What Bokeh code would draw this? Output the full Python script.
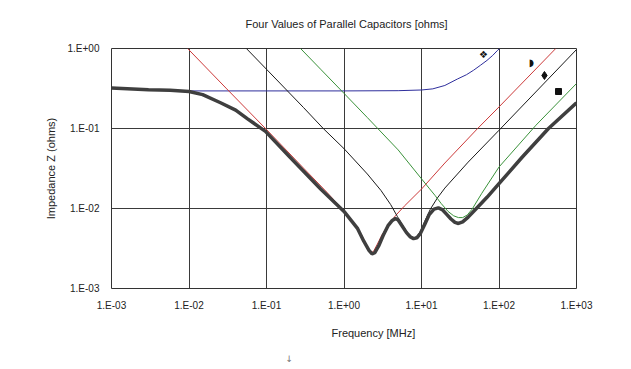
from bokeh.plotting import figure
from bokeh.models import FixedTicker, Title
from bokeh.core.properties import value
from bokeh.embed import file_html
from bokeh.resources import INLINE

# ---------------- data ----------------
x_ticks = [1e-3, 1e-2, 1e-1, 1e0, 1e1, 1e2, 1e3]
x_tick_labels = ["1.E-03", "1.E-02", "1.E-01", "1.E+00", "1.E+01", "1.E+02", "1.E+03"]
y_ticks = [1e-3, 1e-2, 1e-1, 1e0]
y_tick_labels = ["1.E-03", "1.E-02", "1.E-01", "1.E+00"]

blue_f = [0.01, 0.1, 1.0, 5.0, 10, 14, 20, 29, 38, 47, 58, 70, 83, 95, 102]
blue_z = [0.295, 0.295, 0.295, 0.297, 0.303, 0.313, 0.345, 0.415, 0.47, 0.535, 0.62, 0.71, 0.82, 0.94, 1.0]

red_f = [0.0096, 0.03, 0.1, 0.3, 0.6, 1.0, 1.4, 1.7, 2.0, 2.2, 2.4, 2.7, 3.1, 3.6, 4.6, 6.0, 10, 20, 53, 100, 540]
red_z = [1.0, 0.32, 0.097, 0.032, 0.016, 0.0093, 0.0062, 0.0046, 0.0033, 0.0028, 0.0029, 0.0036, 0.0047, 0.0059, 0.0081, 0.0107, 0.0175, 0.037, 0.1, 0.186, 1.0]

black_f = [0.055, 0.1, 0.3, 0.54, 1.0, 2.0, 3.0, 4.0, 4.9, 5.7, 6.5, 7.3, 8.0, 8.8, 9.7, 11, 13, 16, 20, 40, 100, 1000]
black_z = [1.0, 0.55, 0.183, 0.1, 0.056, 0.027, 0.0168, 0.0112, 0.0079, 0.0062, 0.0051, 0.0045, 0.0043, 0.0045, 0.0052, 0.0069, 0.0098, 0.0135, 0.018, 0.038, 0.095, 0.97]

green_f = [0.275, 0.5, 1.0, 2.0, 5.0, 10, 12.5, 15, 18, 22, 26, 30, 34, 39, 45, 60, 100, 300, 1000]
green_z = [1.0, 0.55, 0.275, 0.137, 0.054, 0.0235, 0.018, 0.0145, 0.0115, 0.0092, 0.0081, 0.0077, 0.0077, 0.0083, 0.0098, 0.0155, 0.033, 0.11, 0.365]

total_f = [0.001, 0.003, 0.0057, 0.01, 0.015, 0.0255, 0.04, 0.057, 0.097, 0.2, 0.5, 1.0, 1.5, 1.8, 2.1,
           2.3, 2.5, 2.8, 3.2, 3.7, 4.2, 4.6, 5.0, 5.6, 6.4, 7.2, 7.9, 8.7, 9.7, 11, 12.5, 14.5, 16.5,
           18.5, 21, 24, 27, 30, 34, 40, 50, 70, 100, 200, 435, 1000]
total_z = [0.32, 0.305, 0.30, 0.29, 0.265, 0.21, 0.17, 0.132, 0.092, 0.044, 0.0175, 0.0092, 0.0056, 0.0039, 0.003,
           0.0027, 0.0028, 0.0034, 0.0046, 0.0061, 0.0071, 0.0075, 0.0072, 0.0061, 0.005, 0.0044, 0.0042, 0.0043, 0.0049, 0.0063, 0.0083, 0.0098, 0.0102,
           0.0097, 0.0085, 0.0074, 0.0067, 0.0065, 0.0068, 0.0078, 0.0098, 0.0138, 0.0205, 0.044, 0.1, 0.21]

# curve key symbols
sym_text_f = [63, 262]
sym_text_z = [0.84, 0.67]
sym_text = ["\u2756", "\u25D7"]
diamond_f = [386]
diamond_z = [0.46]
square_f = [586]
square_z = [0.29]

FONT = "Liberation Sans"
TXT = "#222222"

p = figure(width=625, height=366, x_axis_type="log", y_axis_type="log",
           x_range=(1e-3, 1e3), y_range=(1e-3, 1.0),
           output_backend="svg", toolbar_location=None,
           title="Four Values of Parallel Capacitors [ohms]",
           min_border_left=111, min_border_right=49, min_border_top=48, min_border_bottom=78)

p.background_fill_color = "white"
p.border_fill_color = "white"
p.outline_line_color = "#333333"
p.outline_line_width = 1

p.title.align = "left"
p.title.offset = 134
p.title.vertical_align = "top"
p.title.text_font = FONT
p.title.text_font_size = "11px"
p.title.text_font_style = "normal"
p.title.text_color = TXT
p.title.standoff = 33

p.xaxis.ticker = FixedTicker(ticks=x_ticks)
p.yaxis.ticker = FixedTicker(ticks=y_ticks)
p.xaxis.major_label_overrides = dict(zip(x_ticks, x_tick_labels))
p.yaxis.major_label_overrides = dict(zip(y_ticks, y_tick_labels))
for ax in (p.xaxis, p.yaxis):
    ax.major_tick_line_color = None
    ax.minor_tick_line_color = None
    ax.axis_line_color = None
    ax.major_label_text_font = FONT
    ax.major_label_text_font_size = "10px"
    ax.major_label_text_color = TXT
    ax.axis_label_text_font = FONT
    ax.axis_label_text_font_size = "11px"
    ax.axis_label_text_font_style = "normal"
    ax.axis_label_text_color = TXT
p.xaxis.major_label_standoff = 5
p.yaxis.major_label_standoff = 6
p.yaxis.axis_label = "Impedance Z (ohms)"
p.yaxis.axis_label_standoff = 8

xlab = Title(text="Frequency [MHz]", align="left", offset=220, text_font=FONT,
             text_font_size="11px", text_font_style="normal", text_color=TXT, standoff=22)
p.add_layout(xlab, "below")

arrow = Title(text="\u2193", align="left", offset=174, text_font="DejaVu Sans",
              text_font_size="9px", text_font_style="normal", text_color="#777777", standoff=4)
p.add_layout(arrow, "below")

p.xgrid.grid_line_color = "#3a3a3a"
p.ygrid.grid_line_color = "#3a3a3a"
p.xgrid.grid_line_width = 1
p.ygrid.grid_line_width = 1

p.line(blue_f, blue_z, line_color="#2e2e9c", line_width=1)
p.line(red_f, red_z, line_color="#cc3a3a", line_width=1)
p.line(black_f, black_z, line_color="#1a1a1a", line_width=1)
p.line(green_f, green_z, line_color="#3a923a", line_width=1)
p.line(total_f, total_z, line_color="#3f3f3f", line_width=3.5)

p.text(sym_text_f, sym_text_z, text=sym_text, text_font=value("DejaVu Sans"), text_font_size="10px",
       text_align="center", text_baseline="middle", text_color="#111111")
p.scatter(diamond_f, diamond_z, marker="diamond", size=8, fill_color="#111111", line_color="#111111")
p.scatter(square_f, square_z, marker="square", size=6, fill_color="#111111", line_color="#111111")

open("out.html", "w").write(file_html(p, INLINE))
